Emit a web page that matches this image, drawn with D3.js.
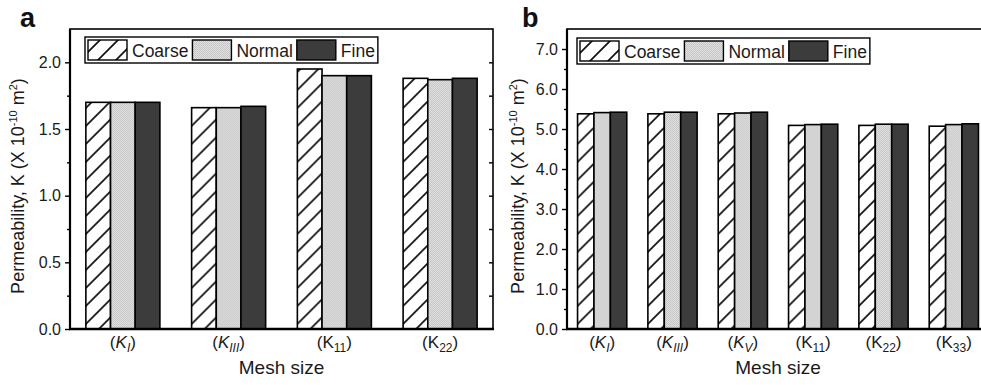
<!DOCTYPE html>
<html>
<head>
<meta charset="utf-8">
<script src="https://cdn.jsdelivr.net/npm/d3@7/dist/d3.min.js"></script>
<style>
  html, body { margin: 0; padding: 0; background: #fff; }
  svg { display: block; font-family: "Liberation Sans", Arial, sans-serif; }
</style>
</head>
<body>
<svg id="chart" width="981" height="385"></svg>
<script>
// Series shared by both panels
const seriesNames = ["Coarse", "Normal", "Fine"];

// Panel a: permeability components
const categoriesA = ["KI", "KIII", "K11", "K22"];
const subscriptsA = ["I", "III", "11", "22"];
const italicA = [true, true, false, false];
const coarseA = [1.70, 1.66, 1.95, 1.88];
const normalA = [1.70, 1.66, 1.90, 1.87];
const fineA = [1.70, 1.67, 1.90, 1.88];
const yTicksA = [0.0, 0.5, 1.0, 1.5, 2.0];
const yMinorA = [0.25, 0.75, 1.25, 1.75, 2.25];
const yMaxA = 2.25;

// Panel b: permeability components
const categoriesB = ["KI", "KIII", "KV", "K11", "K22", "K33"];
const subscriptsB = ["I", "III", "V", "11", "22", "33"];
const italicB = [true, true, true, false, false, false];
const coarseB = [5.38, 5.38, 5.38, 5.09, 5.09, 5.07];
const normalB = [5.41, 5.42, 5.40, 5.11, 5.12, 5.11];
const fineB = [5.42, 5.42, 5.42, 5.12, 5.12, 5.13];
const yTicksB = [0, 1, 2, 3, 4, 5, 6, 7];
const yMinorB = [0.5, 1.5, 2.5, 3.5, 4.5, 5.5, 6.5, 7.5];
const yMaxB = 7.5;

const FONT = "'Liberation Sans', Arial, sans-serif";
const svg = d3.select("#chart");
const defs = svg.append("defs");

// Fill patterns: diagonal hatch, fine light stipple, dark solid
const hatch = defs.append("pattern")
  .attr("id", "hatch").attr("patternUnits", "userSpaceOnUse")
  .attr("width", 18).attr("height", 18);
hatch.append("rect").attr("width", 18).attr("height", 18).attr("fill", "#fff");
hatch.append("path").attr("d", "M-2,20 L20,-2 M-4,4 L4,-4 M14,22 L22,14")
  .attr("stroke", "#111").attr("stroke-width", 1.7);

const stipple = defs.append("pattern")
  .attr("id", "stipple").attr("patternUnits", "userSpaceOnUse")
  .attr("width", 2).attr("height", 2);
stipple.append("rect").attr("width", 2).attr("height", 2).attr("fill", "#e2e2e2");
stipple.append("rect").attr("width", 1).attr("height", 1).attr("fill", "#c2c2c2");
stipple.append("rect").attr("x", 1).attr("y", 1).attr("width", 1).attr("height", 1).attr("fill", "#c6c6c6");

const fills = { Coarse: "url(#hatch)", Normal: "url(#stipple)", Fine: "#3c3c3c" };

function drawPanel(cfg) {
  const g = svg.append("g");
  const { left, right, top, bottom } = cfg;

  const x = d3.scaleBand().domain(cfg.categories).range([left, right])
    .paddingInner(0.3).paddingOuter(0.15);
  const xs = d3.scaleBand().domain(seriesNames).range([0, x.bandwidth()]);
  const y = d3.scaleLinear().domain([0, cfg.yMax]).range([bottom, top]);

  const rows = cfg.categories.map((c, i) => ({
    cat: c,
    vals: seriesNames.map((s, j) => ({ s, v: cfg.series[j][i] }))
  }));

  // Bars
  const grp = g.selectAll("g.grp").data(rows).join("g")
    .attr("transform", d => `translate(${x(d.cat)},0)`);
  grp.selectAll("rect").data(d => d.vals).join("rect")
    .attr("x", d => xs(d.s))
    .attr("y", d => y(d.v))
    .attr("width", xs.bandwidth())
    .attr("height", d => y(0) - y(d.v))
    .attr("fill", d => fills[d.s])
    .attr("stroke", "#000").attr("stroke-width", 1.6);

  // Left axis (outward ticks, labelled)
  const axL = g.append("g").attr("transform", `translate(${left},0)`)
    .call(d3.axisLeft(y).tickValues(cfg.yTicks).tickSize(5).tickPadding(4).tickFormat(d3.format(".1f")));
  axL.select(".domain").remove();
  axL.selectAll("line").attr("stroke", "#000").attr("stroke-width", 1.4);
  axL.selectAll("text").attr("font-size", 16).attr("fill", "#1a1a1a").attr("font-family", FONT);
  const axLm = g.append("g").attr("transform", `translate(${left},0)`)
    .call(d3.axisLeft(y).tickValues(cfg.yMinor.filter(v => v < cfg.yMax)).tickSize(3).tickFormat(""));
  axLm.select(".domain").remove();
  axLm.selectAll("line").attr("stroke", "#000").attr("stroke-width", 1.4);

  // Right frame ticks (inward)
  const rTicks = cfg.yTicks.concat(cfg.yMinor).filter(v => v > 0 && v < cfg.yMax);
  const axR = g.append("g").attr("transform", `translate(${right},0)`)
    .call(d3.axisLeft(y).tickValues(rTicks).tickSize(4).tickFormat(""));
  axR.select(".domain").remove();
  axR.selectAll("line").attr("stroke", "#000").attr("stroke-width", 1.4);

  // Bottom axis with category labels
  const axB = g.append("g").attr("transform", `translate(0,${bottom})`)
    .call(d3.axisBottom(x).tickSize(0).tickPadding(7));
  axB.select(".domain").remove();
  axB.selectAll(".tick text").each(function(d, i) {
    const t = d3.select(this).text(null)
      .attr("font-size", 17).attr("fill", "#1a1a1a").attr("font-family", FONT);
    const it = cfg.italic[i] ? "italic" : "normal";
    t.append("tspan").text("(");
    t.append("tspan").text("K").attr("font-style", it);
    t.append("tspan").text(cfg.subs[i]).attr("font-style", it)
      .attr("font-size", 12).attr("dy", 4);
    t.append("tspan").text(")").attr("dy", -4);
  });

  // Frame
  g.append("rect").attr("x", left).attr("y", top)
    .attr("width", right - left).attr("height", bottom - top)
    .attr("fill", "none").attr("stroke", "#000").attr("stroke-width", 1.6);
  g.append("line").attr("x1", left - 1).attr("x2", right + 1)
    .attr("y1", bottom).attr("y2", bottom)
    .attr("stroke", "#000").attr("stroke-width", 2.4);
  g.append("line").attr("x1", left).attr("x2", left)
    .attr("y1", top).attr("y2", bottom + 1)
    .attr("stroke", "#000").attr("stroke-width", 2.2);

  // Axis titles
  g.append("text").attr("x", (left + right) / 2).attr("y", bottom + 45)
    .attr("text-anchor", "middle").attr("font-size", 19).attr("fill", "#1a1a1a")
    .text("Mesh size");
  const yt = g.append("text")
    .attr("transform", `translate(${cfg.yTitleX},${(top + bottom) / 2 + 7}) rotate(-90)`)
    .attr("text-anchor", "middle").attr("font-size", 18).attr("fill", "#1a1a1a");
  yt.append("tspan").text("Permeability, K (X 10");
  yt.append("tspan").text("-10").attr("font-size", 11).attr("dy", -7);
  yt.append("tspan").text(" m").attr("dy", 7);
  yt.append("tspan").text("2").attr("font-size", 11).attr("dy", -7);
  yt.append("tspan").text(")").attr("dy", 7);

  // Panel letter
  g.append("text").attr("x", cfg.letterX).attr("y", 27)
    .attr("font-size", 27).attr("font-weight", "bold").attr("fill", "#111")
    .text(cfg.letter);

  // Legend
  const L = cfg.legend;
  const lg = g.append("g").attr("transform", `translate(${L.x},${L.y})`);
  const box = lg.append("rect").attr("height", 26)
    .attr("fill", "#fff").attr("stroke", "#000").attr("stroke-width", 1.4);
  let cx = 3;
  seriesNames.forEach(s => {
    lg.append("rect").attr("x", cx).attr("y", 3).attr("width", 39).attr("height", 20)
      .attr("fill", fills[s]).attr("stroke", "#000").attr("stroke-width", 1.4);
    const tx = lg.append("text").attr("x", cx + 44).attr("y", 19.5)
      .attr("font-size", 17.5).attr("fill", "#1a1a1a").text(s);
    cx += 44 + tx.node().getComputedTextLength() + 4;
  });
  box.attr("width", cx - 1);
}

drawPanel({
  left: 70, right: 493, top: 29, bottom: 329,
  categories: categoriesA, subs: subscriptsA, italic: italicA,
  series: [coarseA, normalA, fineA],
  yTicks: yTicksA, yMinor: yMinorA, yMax: yMaxA,
  yTitleX: 24, letter: "a", letterX: 20,
  legend: { x: 85, y: 37 }
});

drawPanel({
  left: 567, right: 989, top: 29, bottom: 329,
  categories: categoriesB, subs: subscriptsB, italic: italicB,
  series: [coarseB, normalB, fineB],
  yTicks: yTicksB, yMinor: yMinorB, yMax: yMaxB,
  yTitleX: 524, letter: "b", letterX: 522,
  legend: { x: 577, y: 38 }
});
</script>
</body>
</html>
